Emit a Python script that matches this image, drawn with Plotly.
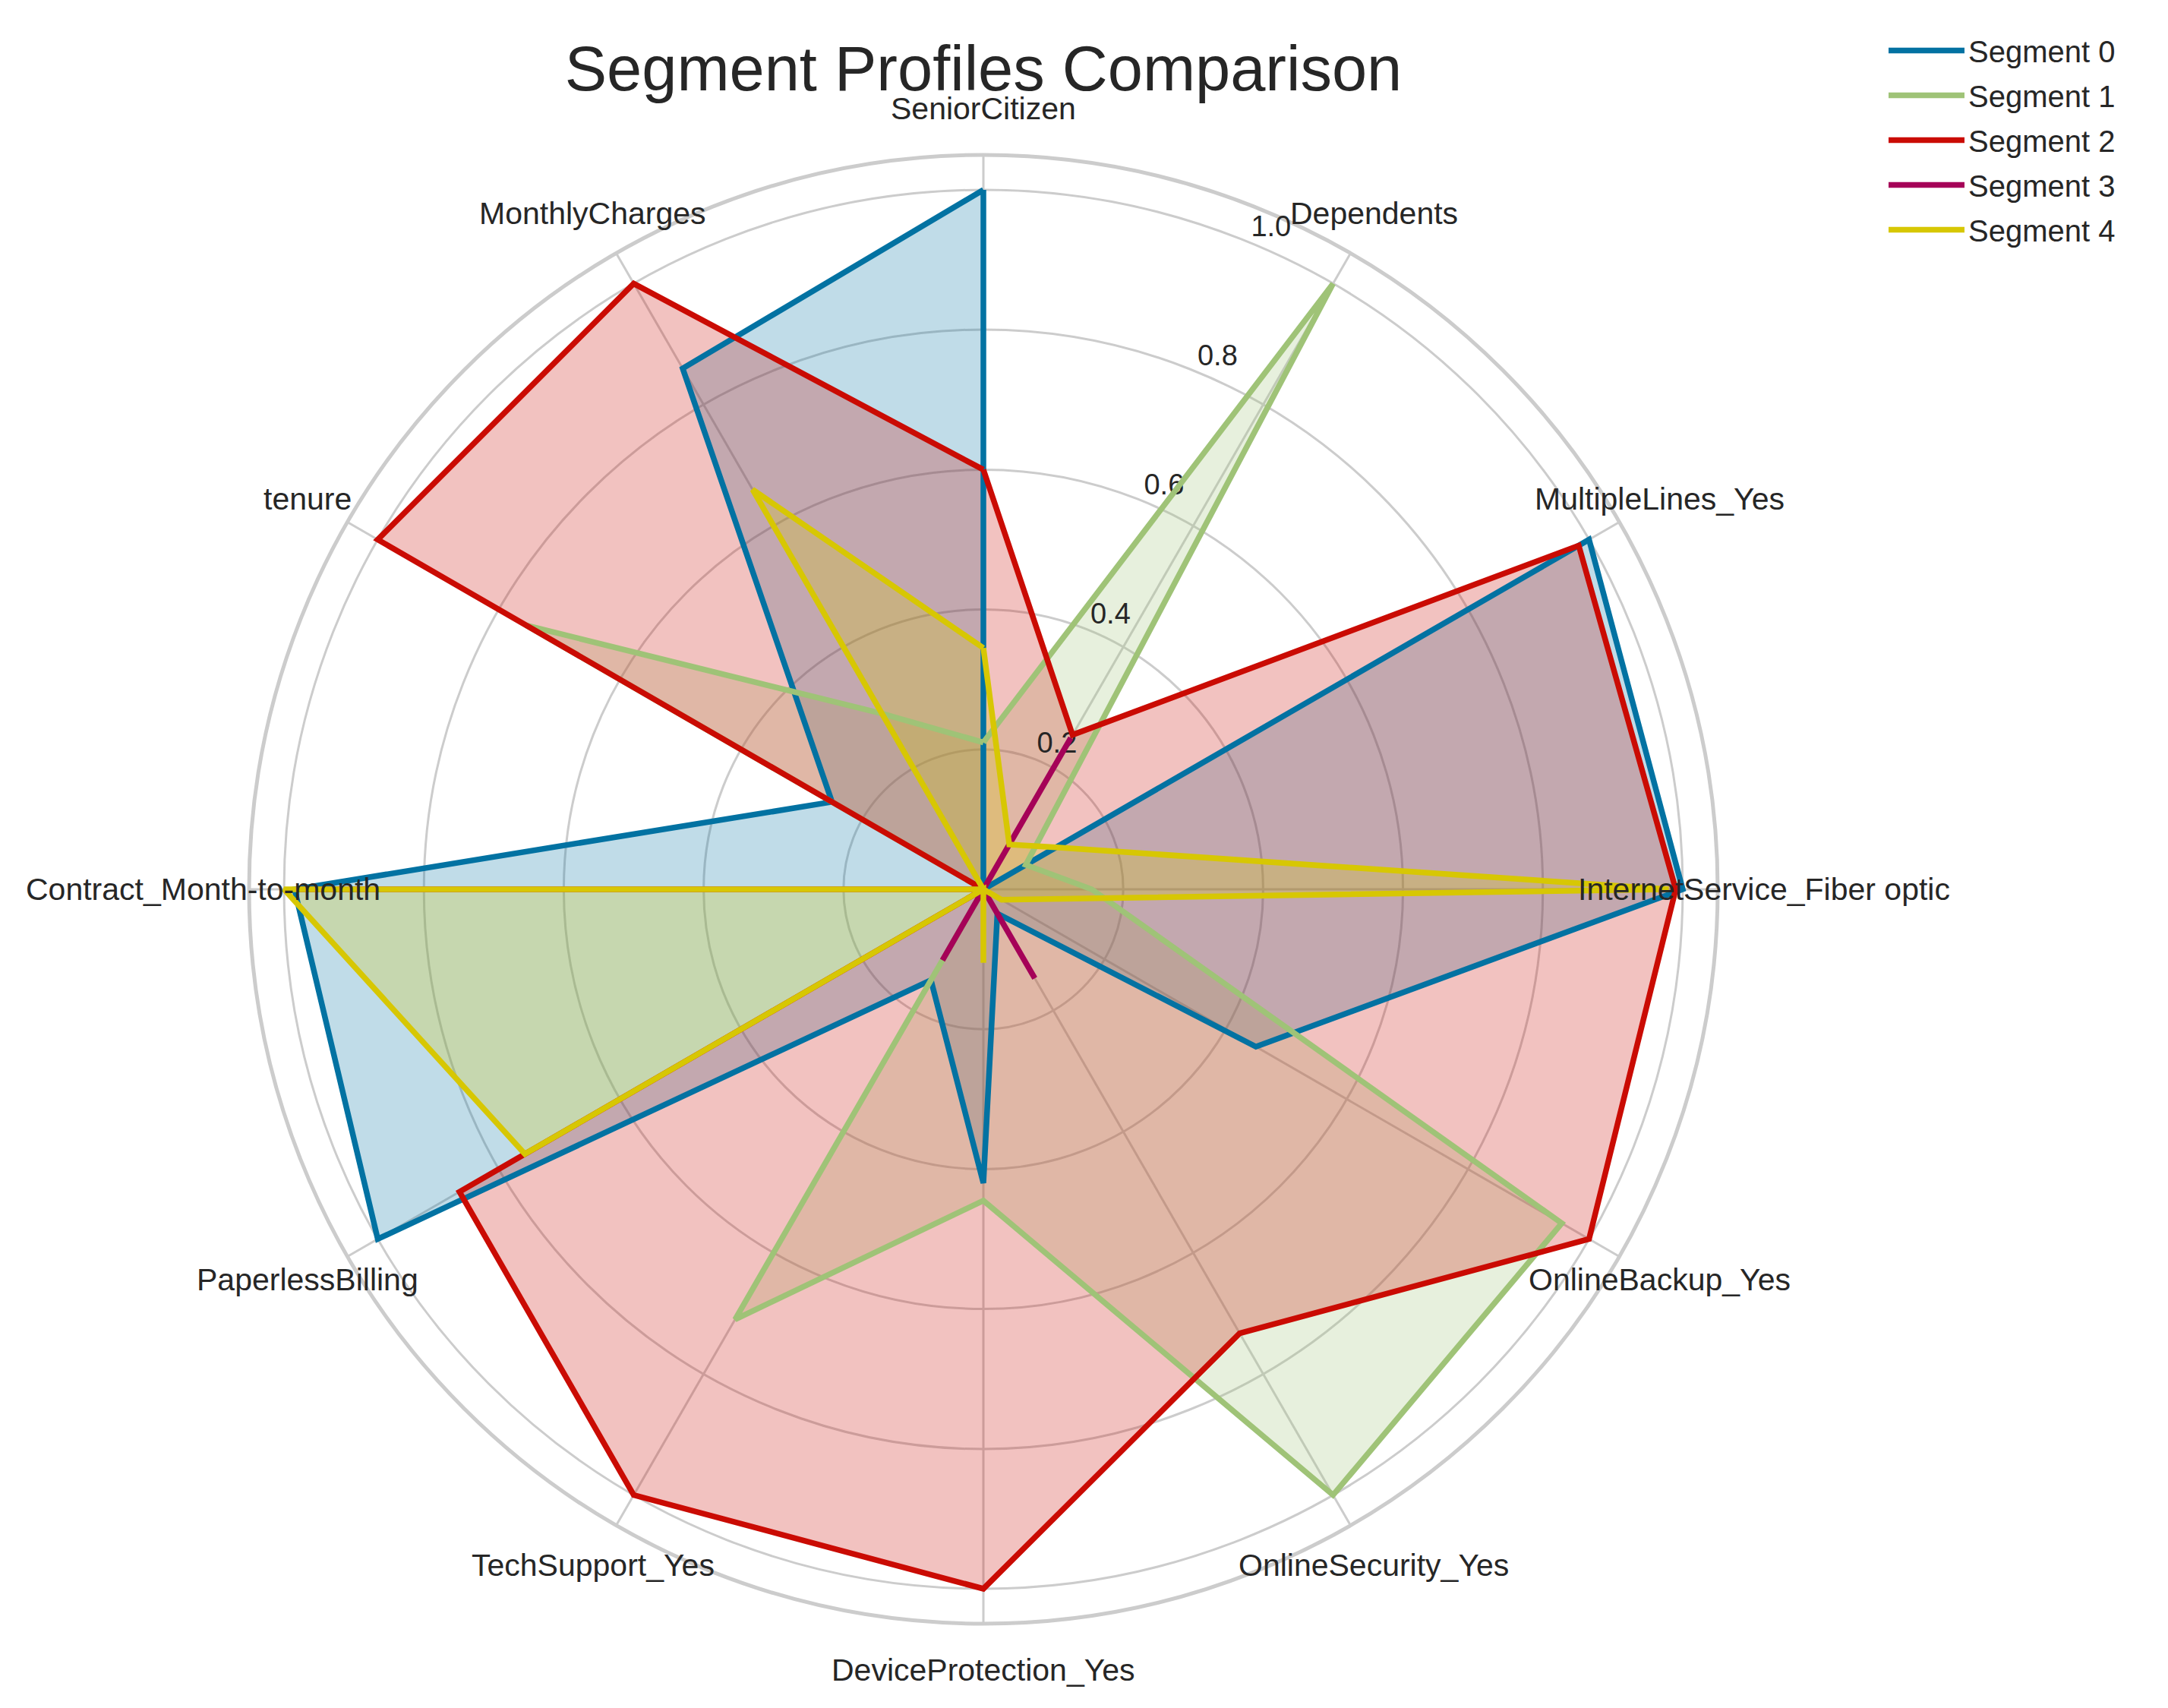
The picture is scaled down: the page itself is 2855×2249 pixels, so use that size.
import math
import plotly.graph_objects as go

categories = ["SeniorCitizen", "Dependents", "MultipleLines_Yes", "InternetService_Fiber optic",
              "OnlineBackup_Yes", "OnlineSecurity_Yes", "DeviceProtection_Yes", "TechSupport_Yes",
              "PaperlessBilling", "Contract_Month-to-month", "tenure", "MonthlyCharges"]

segment_names = ["Segment 0", "Segment 1", "Segment 2", "Segment 3", "Segment 4"]
seg0 = [1.0, 0.0, 1.0, 1.0, 0.45, 0.04, 0.42, 0.15, 1.0, 0.985, 0.25, 0.86]
seg1 = [0.21, 1.0, 0.07, 0.155, 0.955, 1.0, 0.445, 0.71, 0.0, 0.0, 0.755, 0.29]
seg2 = [0.6, 0.255, 0.983, 0.99, 1.0, 0.733, 1.0, 1.0, 0.865, 0.0, 1.0, 1.0]
seg3 = [0.0, 0.25, 0.0, 0.0, 0.0, 0.147, 0.0, 0.117, 0.0, 0.98, 0.0, 0.0]
seg4 = [0.345, 0.074, 0.12, 0.98, 0.03, 0.0, 0.105, 0.0, 0.757, 1.0, 0.0, 0.66]
segments = [seg0, seg1, seg2, seg3, seg4]

colors = ["#0272a2", "#9fc377", "#ca0b03", "#a50258", "#d7c703"]
fills = ["rgba(2,114,162,0.25)", "rgba(159,195,119,0.25)", "rgba(202,11,3,0.25)",
         "rgba(165,2,88,0.25)", "rgba(215,199,3,0.25)"]

radial_ticks = [0.2, 0.4, 0.6, 0.8, 1.0]
radial_ticktext = ["0.2", "0.4", "0.6", "0.8", "1.0"]

OFF = 8                      # default page margin of the html body
W, H = 2855 - 2 * OFF, 2249 - 2 * OFF
CX, CY = 1295, 1171          # centre in page pixels (from top-left)
R_OUT = 967                  # outer circle radius in pixels
R_MAX = 1.05
LABEL_R = 1028


def fx(p):
    return (p - OFF) / W


def fy(p):
    return 1 - (p - OFF) / H


n = len(categories)
angles = [i * 360.0 / n for i in range(n)]

fig = go.Figure()
# fills first (matplotlib draws patches below lines)
for name, vals, c, f in zip(segment_names, segments, colors, fills):
    fig.add_trace(go.Scatterpolar(
        r=vals + vals[:1], theta=angles + angles[:1], mode="lines",
        line=dict(color=f, width=0), fill="toself", fillcolor=f,
        showlegend=False, hoverinfo="skip"))

# radial tick labels
fig.add_trace(go.Scatterpolar(
    r=radial_ticks, theta=[22.5] * len(radial_ticks),
    mode="text", text=radial_ticktext, textposition="top right",
    textfont=dict(family="Liberation Sans, Arial", size=38, color="#262626"),
    showlegend=False, hoverinfo="skip"))

for name, vals, c in zip(segment_names, segments, colors):
    fig.add_trace(go.Scatterpolar(
        r=vals + vals[:1], theta=angles + angles[:1], mode="lines",
        line=dict(color=c, width=7.5), name=name, legendgroup=name,
        hoverinfo="skip"))

annotations = []
for cat, a in zip(categories, angles):
    ang = math.radians(90 - a)
    px = CX + LABEL_R * math.cos(ang)
    py = CY - LABEL_R * math.sin(ang)
    annotations.append(dict(x=fx(px), y=fy(py), xref="paper", yref="paper",
                            text=cat, showarrow=False, xanchor="center", yanchor="middle",
                            font=dict(family="Liberation Sans, Arial", size=41, color="#262626")))

grid = "#cccccc"
fig.update_layout(
    width=W, height=H,
    margin=dict(l=0, r=0, t=0, b=0),
    paper_bgcolor="white", plot_bgcolor="white",
    font=dict(family="Liberation Sans, Arial", size=40, color="#262626"),
    title=dict(text="Segment Profiles Comparison", x=fx(CX), xanchor="center",
               y=fy(90), yanchor="middle",
               font=dict(family="Liberation Sans, Arial", size=83, color="#262626")),
    polar=dict(
        domain=dict(x=[fx(CX - R_OUT), fx(CX + R_OUT)],
                    y=[fy(CY + R_OUT), fy(CY - R_OUT)]),
        bgcolor="white",
        radialaxis=dict(range=[0, R_MAX], tickvals=radial_ticks, showticklabels=False,
                        ticks="", showline=False, gridcolor=grid, gridwidth=3,
                        layer="below traces"),
        angularaxis=dict(rotation=90, direction="clockwise", tickmode="array",
                         tickvals=angles, ticktext=categories, showticklabels=False,
                         ticks="", showline=True, linecolor=grid, linewidth=5,
                         gridcolor=grid, gridwidth=3, layer="below traces"),
    ),
    legend=dict(x=fx(2482), y=fy(34), xanchor="left", yanchor="top",
                font=dict(family="Liberation Sans, Arial", size=40, color="#262626"),
                bgcolor="rgba(0,0,0,0)", itemwidth=100, tracegroupgap=4),
    annotations=annotations,
)

fig.write_html("out.html")
